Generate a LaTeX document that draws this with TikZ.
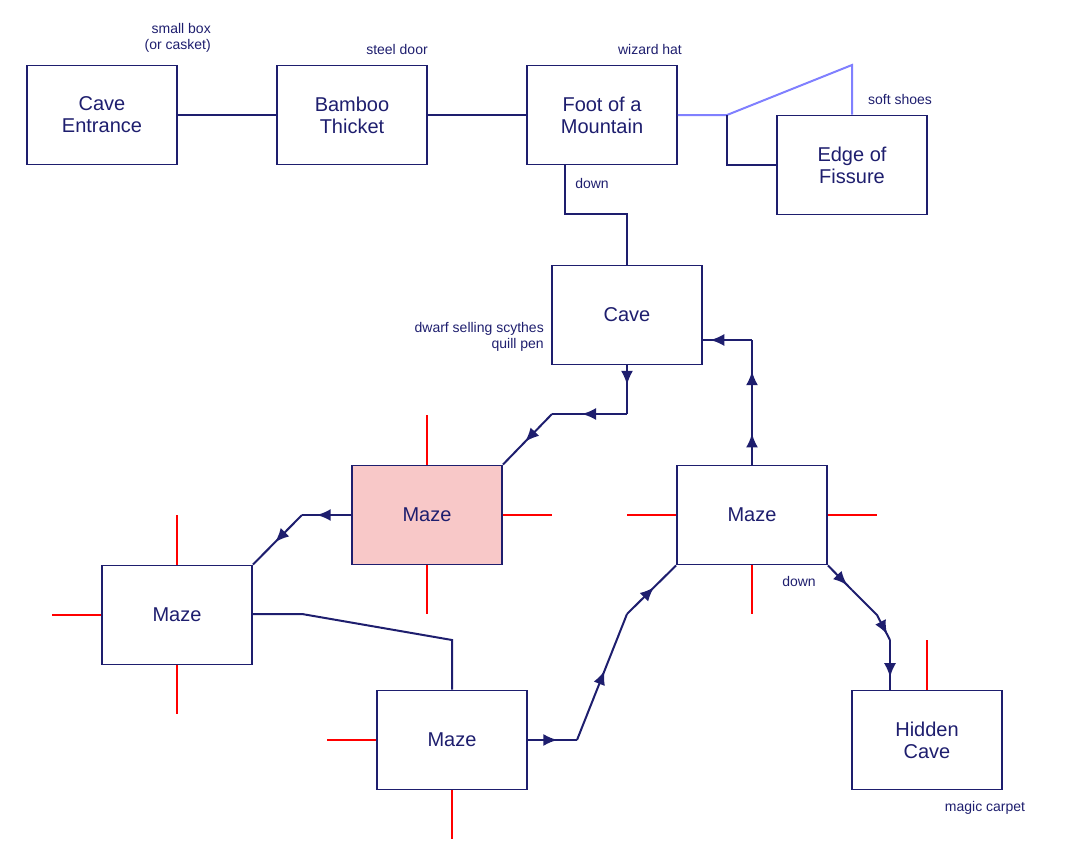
\documentclass[tikz,border=0pt]{standalone}
\usepackage{fontspec}
\setmainfont{Liberation Sans}
\usetikzlibrary{arrows.meta,decorations.markings}
\definecolor{navy}{HTML}{1E1E6E}
\definecolor{pinkf}{HTML}{F8C8C8}
\definecolor{lblue}{HTML}{8080FF}
\begin{document}
\begin{tikzpicture}[x=1pt,y=-1pt,
 box/.style={draw=navy,line width=1.8pt,fill=white,minimum width=150pt,minimum height=99pt,align=center,text=navy,font=\fontsize{20}{22}\selectfont},
 con/.style={draw=navy,line width=2pt},
 lbl/.style={text=navy,font=\fontsize{14}{16}\selectfont,inner sep=1pt},
 stub/.style={draw=red,line width=2pt},
 ma/.style={con,postaction={decorate},decoration={markings,mark=at position #1 with {\arrow{Latex[length=14pt,width=12pt]}}}},
 ma/.default=0.55]
\useasboundingbox (0,0) rectangle (1069,859);
\node[box] (ce) at (102,115) {Cave\\Entrance};
\node[box] (bt) at (352,115) {Bamboo\\Thicket};
\node[box] (fm) at (602,115) {Foot of a\\Mountain};
\node[box] (ef) at (852,165) {Edge of\\Fissure};
\node[box] (cv) at (627,315) {Cave};
\node[box,fill=pinkf] (mp) at (427,515) {Maze};
\node[box] (mr) at (752,515) {Maze};
\node[box] (ml) at (177,615) {Maze};
\node[box] (mb) at (452,740) {Maze};
\node[box] (hc) at (927,740) {Hidden\\Cave};
% red stubs
\draw[stub] (427,415)--(mp.north) (mp.east)--(552,515) (mp.south)--(427,614);
\draw[stub] (177,515)--(ml.north) (52,615)--(ml.west) (ml.south)--(177,714);
\draw[stub] (627,515)--(mr.west) (mr.east)--(877,515) (mr.south)--(752,614);
\draw[stub] (327,740)--(mb.west) (mb.south)--(452,839);
\draw[stub] (927,640)--(hc.north);
% connectors
\draw[con] (ce.east)--(bt.west);
\draw[con] (bt.east)--(fm.west);
\coordinate (j) at (727,115);
\draw[lblue,line width=2pt] (fm.east)--(j)--(852,65)--(ef.north);
\draw[con] (j)--(727,165)--(ef.west);
\draw[con] (565,164)--(565,214)--(627,214)--(cv.north);
% cave -> pink maze
\coordinate (a1) at (627,414); \coordinate (a2) at (552,414);
\draw[ma=0.4] (cv.south)--(a1);
\draw[ma=0.6] (a1)--(a2);
\draw[ma] (a2)--(mp.north east);
% pink -> left
\coordinate (b1) at (302,515);
\draw[ma=0.7] (mp.west)--(b1);
\draw[ma] (b1)--(ml.north east);
% left -> bottom
\draw[con] (252,614)--(302,614)--(452,640)--(mb.north);
% bottom -> right
\coordinate (c1) at (577,740); \coordinate (c2) at (627,614);
\draw[ma=0.6] (mb.east)--(c1);
\draw[ma] (c1)--(c2);
\draw[ma] (c2)--(mr.south west);
% right -> cave
\coordinate (d1) at (752,340);
\draw[ma=0.25] (mr.north)--(d1);
\draw[ma=0.75] (mr.north)--(d1);
\draw[ma=0.85] (d1)--(cv.east|-d1);
% right -> hidden
\coordinate (e1) at (852,590); \coordinate (e2) at (877,615); \coordinate (e3) at (890,640);
\draw[ma=0.8] (mr.south east)--(e1);
\draw[ma=0.9] (e1)--(e2)--(e3);
\draw[ma=0.75] (e3)--(hc.north west-|e3);
% labels
\node[lbl,align=right,anchor=east] at (212,38) {small box\\(or casket)};
\node[lbl] at (397,49) {steel door};
\node[lbl] at (650,49) {wizard hat};
\node[lbl] at (900,99) {soft shoes};
\node[lbl] at (592,183) {down};
\node[lbl,align=right,anchor=east] at (545,337) {dwarf selling scythes\\quill pen};
\node[lbl] at (799,581) {down};
\node[lbl] at (985,808) {magic carpet};
\end{tikzpicture}
\end{document}
